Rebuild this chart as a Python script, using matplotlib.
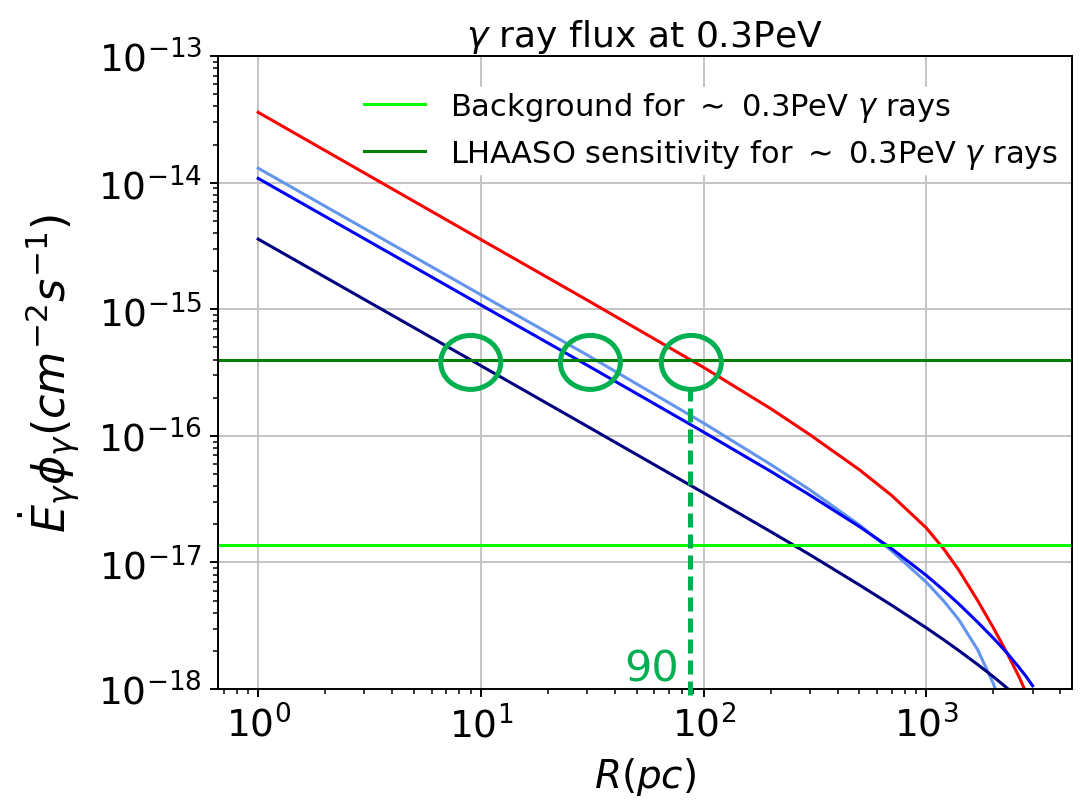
import matplotlib
matplotlib.use('Agg')
import matplotlib.pyplot as plt
from matplotlib.patches import Ellipse

# distance R (pc)
R_pc = [1, 10, 30, 100, 200, 300, 500, 700, 1000, 1200, 1400, 1700, 2000, 2300, 2600, 2800, 3000]

# gamma ray flux (cm^-2 s^-1)
flux_red = [3.59e-14, 3.55e-15, 1.18e-15, 3.47e-16, 1.64e-16, 1.02e-16, 5.4e-17, 3.37e-17, 1.87e-17,
            1.27e-17, 8.67e-18, 4.99e-18, 3.04e-18, 1.93e-18, 1.26e-18, 9.4e-19, 6.9e-19]
flux_lightblue = [1.30e-14, 1.30e-15, 4.35e-16, 1.26e-16, 5.94e-17, 3.74e-17, 1.98e-17, 1.23e-17, 6.97e-18,
                  4.93e-18, 3.52e-18, 2.04e-18, 1.10e-18, 5.87e-19, 3.18e-19, 2.12e-19, 1.40e-19]
flux_blue = [1.08e-14, 1.08e-15, 3.61e-16, 1.07e-16, 5.24e-17, 3.40e-17, 1.92e-17, 1.28e-17, 7.89e-18,
             6.0e-18, 4.69e-18, 3.37e-18, 2.52e-18, 1.93e-18, 1.49e-18, 1.26e-18, 1.06e-18]
flux_navy = [3.58e-15, 3.58e-16, 1.19e-16, 3.54e-17, 1.75e-17, 1.15e-17, 6.64e-18, 4.58e-18, 3.04e-18,
             2.44e-18, 2.01e-18, 1.56e-18, 1.25e-18, 1.02e-18, 8.45e-19, 7.48e-19, 6.62e-19]

background = 1.37e-17
sensitivity = 4.0e-16

# hand-drawn marks: where the curves hit the sensitivity line
cross_R = [9, 31, 88]
cross_flux = 3.8e-16
mark_R = 87
mark_label = '90'
mark_green = '#00b050'

fig = plt.figure(figsize=(10.84, 8.03), dpi=100)
ax = fig.add_axes([0.2011, 0.1407, 0.7877, 0.7883])

ax.plot(R_pc, flux_red, color='red', lw=2.2)
ax.plot(R_pc, flux_lightblue, color='cornflowerblue', lw=2.2)
ax.plot(R_pc, flux_blue, color='blue', lw=2.2)
ax.plot(R_pc, flux_navy, color='navy', lw=2.2)
ax.axhline(background, color='lime', lw=2.2, label=r'Background for $\sim$ 0.3PeV $\gamma$ rays')
ax.axhline(sensitivity, color='green', lw=2.2, label=r'LHAASO sensitivity for $\sim$ 0.3PeV $\gamma$ rays')

ax.set_xscale('log')
ax.set_yscale('log')
ax.set_xlim(0.66, 4500)
ax.set_ylim(1e-18, 1e-13)

ax.grid(True, which='major', color='#c4c4c4', lw=1.4)
ax.set_axisbelow(True)
for sp in ax.spines.values():
    sp.set_linewidth(1.4)
ax.tick_params(which='major', labelsize=27, length=5.5, width=1.4, pad=6)
ax.tick_params(which='minor', length=3.6, width=1.1)

ax.set_title(r'$\gamma$ ray flux at 0.3PeV', fontsize=26, pad=7)
ax.set_xlabel(r'$R(pc)$', fontsize=28, labelpad=7)
ax.set_ylabel(r'$\dot{E}_\gamma\phi_\gamma(cm^{-2}s^{-1})$', fontsize=32, labelpad=11)

leg = ax.legend(loc='upper right', bbox_to_anchor=(0.987, 0.951), fontsize=22, frameon=True,
                borderpad=0.1, labelspacing=0.42, borderaxespad=0, framealpha=1.0, fancybox=False)
leg.get_frame().set_edgecolor('white')
leg.set_zorder(1.5)  # keep the curves on top of the white box

# green ellipses around the crossings
to_axes = ax.transAxes.inverted()
for r in cross_R:
    cx, cy = to_axes.transform(ax.transData.transform((r, cross_flux)))
    ax.add_patch(Ellipse((cx, cy), 0.0703, 0.0853, transform=ax.transAxes,
                         fill=False, edgecolor=mark_green, lw=3.6, zorder=5))

ax.plot([mark_R, mark_R], [2.45e-16, 8.3e-19], color=mark_green, lw=3.6,
        linestyle=(0, (2.8, 1.4)), clip_on=False, zorder=5)
ax.annotate(mark_label, xy=(mark_R, 1e-18), xytext=(-8, 6), textcoords='offset points',
            ha='right', va='baseline', color=mark_green, fontsize=31)

fig.savefig('out.png', dpi=100)
